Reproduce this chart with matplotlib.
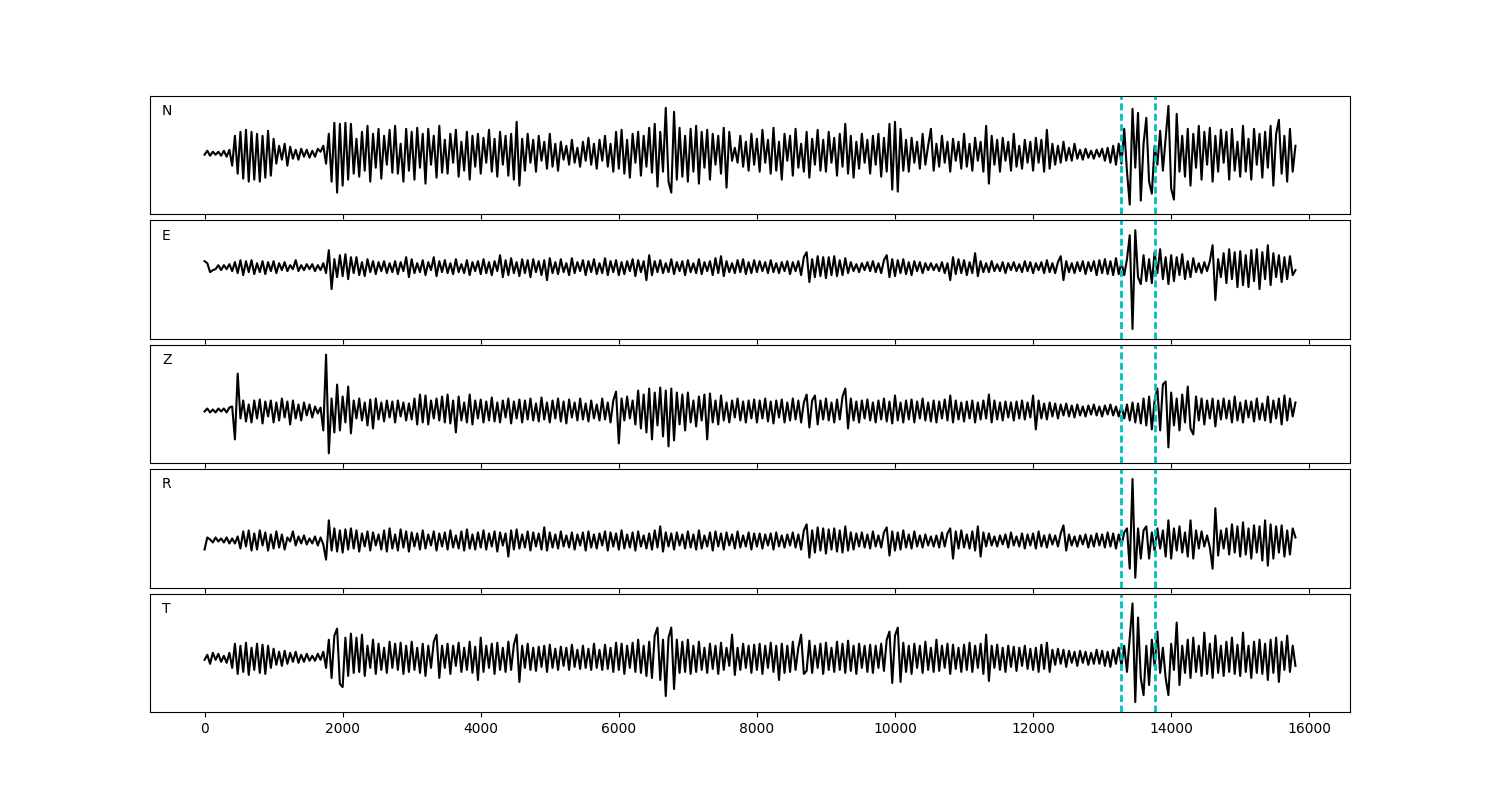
import matplotlib
matplotlib.use("Agg")
import matplotlib.pyplot as plt
import numpy as np

# sample spacing of the stored values (samples)
STEP = 40

# amplitudes (reference-pixel units, positive up), one value every STEP samples
N_TRACE = [
    -1, 3, -2, 2, -1, 2, -2, 3, -3, 4, -12, 18, -20, 22, -25, 24, -28, 22, -26, 20, -28, 18, -24, 23, -22,
    15, -10, 8, -6, 10, -12, 7, -5, 4, -6, 5, -3, 4, -4, 3, -3, 5, 2, 8, -10, 20, -28, 31, -39, 30,
    -32, 31, -26, 30, -20, 15, -23, 22, -17, 28, -28, 20, -14, 25, -25, 18, -11, 24, -19, 28, -20, 10, -28, 25, -17,
    22, -26, 26, -14, 20, -30, 25, -11, 18, -24, 28, -19, 14, -20, 20, -9, 24, -23, 12, -17, 22, -26, 18, -13, 20,
    -20, 16, -9, 24, -18, 15, -23, 22, -11, 18, -22, 20, -26, 32, -32, 15, -17, 20, -9, 14, -18, 18, -7, 12, -15,
    20, -13, 10, -17, 12, -6, 8, -11, 14, -9, 6, -13, 12, -7, 16, -11, 10, -15, 14, -7, 18, -13, 10, -18, 22,
    -15, 24, -20, 14, -24, 20, -9, 22, -22, 18, -13, 26, -19, 30, -33, 22, -18, 46, -28, -39, 42, -26, 26, -23, 18,
    -28, 25, -18, 28, -30, 22, -14, 24, -26, 20, -11, 18, -20, 26, -34, 22, -7, 6, -9, 18, -13, 12, -17, 20, -11,
    15, -18, 24, -9, 14, -20, 26, -17, 12, -26, 20, -7, 18, -22, 25, -14, 10, -18, 22, -24, 15, -11, 24, -17, 14,
    -18, 22, -9, 16, -22, 20, -13, 30, -20, 18, -24, 12, -15, 20, -9, 14, -20, 18, -11, 20, -23, 16, -18, 30, -36,
    32, -38, 25, -17, 14, -18, 16, -9, 12, -15, 20, -11, 8, 25, -17, 10, -13, 18, -9, 12, -18, 15, -7, 12, -15,
    20, -13, 10, -17, 16, -7, 12, -18, 28, -30, 18, -11, 14, -18, 16, -7, 12, -17, 20, -13, 8, -15, 14, -9, 12,
    -17, 16, -9, 14, -18, 24, -15, 10, -11, 8, -9, 12, -7, 6, -7, 10, -5, 4, -6, 5, -4, 3, -5, 4, -3,
    5, -7, 6, -9, 8, -11, 10, -10, 25, -18, -51, 45, -14, 41, -47, 10, 36, -28, -40, 8, -11, 23, -17, 15, 48,
    -35, -46, 40, -18, 18, -23, 25, -32, 20, -14, 28, -26, 22, -11, 26, -28, 18, -18, 24, -9, 22, -26, 25, -17, 12,
    -23, 28, -18, 15, -26, 25, -11, 20, -24, 22, -14, 28, -32, 20, 34, -20, 18, -28, 25, -18, 8,
]

E_TRACE = [
    6, 4, -5, -3, -2, 2, -3, 2, -2, 3, -4, 5, -6, 7, -8, 6, -5, 7, -7, 4, -5, 6, -7, 5, -4,
    6, -6, 4, -3, 5, -4, 2, -2, 7, -4, 2, -3, 3, -2, 3, -4, 2, -3, 4, -6, 17, -22, 8, -10, 12,
    -9, 13, -12, 10, -6, 10, -8, 5, -9, 8, -5, 6, -7, 5, -4, 6, -6, 4, -5, 6, -7, 5, -4, 10, -10,
    8, -6, 4, -5, 7, -8, 5, -3, 10, -9, 6, -5, 7, -6, 4, -7, 8, -5, 3, -6, 7, -8, 5, -4, 6,
    -7, 8, -6, 5, -8, 6, -4, 12, -10, 7, -8, 9, -6, 5, -9, 8, -6, 7, -10, 8, -5, 6, -8, 7, -13,
    9, -6, 5, -7, 8, -5, 4, -8, 9, -6, 5, -4, 7, -8, 6, -5, 8, -7, 4, -6, 9, -8, 6, -5, 7,
    -8, 5, -7, 6, -4, 8, -9, 7, -5, 6, -13, 12, -8, 6, -5, 7, -6, 4, -5, 8, -7, 5, -4, 6, -8,
    7, -5, 4, -6, 8, -7, 5, -4, 6, -8, 9, -6, 11, -9, 6, -5, 4, -6, 7, -5, 8, -7, 5, -6, 7,
    -5, 6, -4, 5, -6, 7, -5, 4, -6, 5, -4, 6, -7, 5, -4, 6, -8, 10, 15, -15, 8, -10, 11, -9, 10,
    -11, 10, -8, 11, -9, 7, -8, 9, -6, 5, -4, 3, -5, 4, -3, 5, -4, 6, -5, 4, -6, 7, 12, -10, 8,
    -9, 7, -6, 8, -7, 5, -8, 6, -4, 5, -6, 4, -3, 4, -3, 3, -4, 5, -6, 4, -13, 10, -7, 8, -6,
    7, -8, 5, -6, 14, -9, 6, -5, 4, -5, 6, -4, 3, -4, 5, -6, 4, -3, 5, -4, 3, -5, 6, -4, 5,
    -6, 4, -3, 5, -6, 7, -5, 4, -6, 5, 11, -13, 6, -5, 4, -6, 5, -4, 6, -7, 5, -4, 6, -8, 7,
    -6, 8, -7, 6, -8, 9, -7, 5, -8, 8, 32, -62, 37, -10, -17, 12, -14, 8, -16, 15, -6, 18, -12, 10, -17,
    12, -14, 10, -8, 13, -12, 6, -10, 9, -5, 4, -6, 5, -4, 6, 22, -33, 8, -10, 14, -16, 18, -12, 15, -20,
    16, -18, 12, -20, 17, -14, 18, -22, 15, -12, 22, -18, 14, -10, 12, -15, 10, -12, 11, -8, -3,
]

Z_TRACE = [
    -1, 2, -2, 1, -2, 2, -1, 2, -2, 3, 4, -29, 37, -8, 10, -11, 6, -12, 10, -8, 11, -13, 9, -6, 10,
    -12, 8, -10, 12, -7, 9, -14, 10, -8, 6, -10, 8, -5, 6, -7, 4, -3, 3, -20, 56, -43, 12, -22, 26, -20,
    14, -12, 24, -23, 10, -8, 12, -10, 8, -15, 11, -18, 12, -9, 8, -11, 10, -7, 9, -12, 10, -6, 8, -10, 7,
    -9, 12, -14, 16, -12, 15, -14, 10, -8, 12, -10, 14, -12, 16, -13, 10, -22, 14, -10, 8, -12, 16, -14, 10, -8,
    11, -12, 9, -10, 13, -11, 8, -12, 10, -7, 12, -13, 9, -8, 11, -12, 10, -9, 12, -10, 7, -11, 13, -9, 8,
    -12, 10, -8, 12, -11, 9, -13, 11, -7, 8, -10, 12, -9, 7, -11, 10, -8, 6, -10, 12, -9, 8, -12, 10, 19,
    -33, 12, -10, 14, -8, 10, -14, 20, -18, 16, -22, 22, -29, 18, -15, 23, -26, 20, -36, 22, -30, 18, -14, 16, -20,
    18, -12, 10, -16, 14, -10, 16, -29, 17, -12, 10, -14, 15, -10, 8, -12, 10, -7, 12, -10, 9, -12, 10, -8, 11,
    -12, 10, -8, 12, -11, 9, -13, 10, -7, 11, -12, 8, -10, 12, -9, 10, -12, 8, 16, -17, 10, 15, -14, 10, -9,
    12, -10, 8, -12, 11, -9, 14, 22, -18, 12, -10, 9, -12, 10, -8, 11, -10, 8, -12, 10, -9, 12, -11, 9, -13,
    15, -10, 8, -12, 10, -9, 11, -12, 9, -8, 12, -10, 8, -11, 10, -12, 9, -8, 11, -10, 15, -12, 10, -9, 8,
    -11, 9, -8, 10, -12, 8, -9, 10, -8, 16, -12, 10, -9, 8, -10, 9, -7, 8, -10, 9, -8, 10, -9, 8, -7,
    15, -19, 10, -8, 7, -9, 8, -6, 7, -8, 6, -5, 7, -6, 5, -7, 6, -5, 4, -6, 5, -4, 6, -5, 4,
    -6, 5, -4, 6, -5, 4, -6, 5, -8, 6, -10, 8, -12, 7, -13, 12, -15, 14, -19, 10, 22, -20, 26, 29, -37,
    18, -15, 12, -20, 16, -12, 24, -18, -24, 14, -10, 12, -14, 10, -8, 12, -16, 10, -9, 12, -8, 10, -12, 14, -10,
    8, -12, 10, -7, 9, -11, 12, -9, 7, -10, 14, -12, 10, -8, 12, -14, 15, -10, 12, -6, 8,
]

R_TRACE = [
    -9, 3, 1, -2, 3, -1, 2, -2, 3, -3, 2, -3, 4, -8, 9, -6, 10, -10, 7, -9, 10, -5, 8, -10, 6,
    -8, 9, -7, 6, -9, 3, -1, 9, -5, 4, -3, 5, -4, 2, -3, 4, -5, 3, -4, -19, 20, -10, 12, -11, 10,
    -12, 11, -9, 12, -8, 10, -11, 7, -6, 9, -10, 8, -5, 6, -9, 10, -11, 12, -8, 6, -10, 11, -7, 9, -11,
    8, -6, 7, -9, 10, -8, 6, -5, 9, -10, 7, -6, 8, -9, 10, -7, 5, -8, 9, -10, 11, -8, 6, -9, 8,
    -7, 10, -9, 7, -6, 9, -11, 8, -5, 7, -16, 10, -9, 11, -8, 6, -7, 9, -10, 8, -6, 7, -9, 13, -10,
    8, -7, 6, -8, 9, -6, 5, -7, 8, -9, 6, -5, 8, -10, 9, -7, 6, -8, 7, -5, 9, -10, 8, -6, 7,
    -9, 10, -8, 6, -7, 8, -10, 9, -6, 5, -8, 7, -9, 10, -7, 14, -11, 8, -6, 7, -9, 8, -5, 6, -8,
    9, -7, 6, -9, 10, -8, 5, -6, 8, -10, 9, -6, 7, -9, 8, -5, 6, -8, 9, -7, 5, -6, 8, -9, 7,
    -6, 7, -8, 6, -5, 7, -9, 8, -6, 5, -7, 6, -5, 8, -7, 6, -9, 10, 16, -17, 10, -12, 13, -10, 12,
    -13, 11, -9, 12, -11, 10, -12, 14, -10, 8, -9, 7, -6, 8, -7, 6, -8, 9, -6, 5, -7, 8, 13, -15, 9,
    -10, 8, -9, 10, -7, 6, -8, 9, -6, 5, -7, 6, -5, 4, -6, 5, -7, 8, -6, 7, 12, -18, 9, -8, 10,
    -7, 6, -8, 9, -10, 14, -16, 8, -6, 7, -5, 4, -6, 5, -4, 6, -7, 8, -5, 4, -6, 7, -8, 6, -5,
    7, -8, 9, -6, 5, -7, 6, -4, 5, -6, 7, 15, -10, 6, -5, 4, -6, 5, -4, 6, -7, 5, -6, 7, -5,
    6, -7, 8, -6, 7, -8, 6, -5, 8, 12, -28, 61, -37, 12, -18, 10, 14, -18, 8, -10, 12, -8, 10, -16, 20,
    -18, 12, -10, 14, -12, 8, -16, 20, -18, 10, -8, 9, -6, 5, -7, -28, 32, -15, 10, -8, 12, -14, 16, -12, 14,
    -16, 18, -14, 12, -18, 15, -12, 14, -20, 20, -25, 16, -18, 14, -12, 15, -16, 10, -14, 12, 3,
]

T_TRACE = [
    -2, 3, -6, 5, -2, 4, -4, 2, -5, 5, -10, 14, -16, 12, -14, 15, -17, 10, -12, 14, -15, 13, -16, 12, -10,
    9, -7, 6, -8, 7, -6, 5, -4, 6, -5, 3, -4, 4, -3, 2, -3, 4, -2, 6, -10, 18, -20, 22, 29, -26,
    -29, 20, -18, 24, -15, 20, -14, 23, -18, 12, -10, 18, -16, 14, -12, 10, -15, 16, -10, 14, -12, 15, -16, 12, -14,
    16, -12, 10, -15, 14, -18, 12, -10, 16, 23, -20, 12, -10, 14, -16, 12, -8, 15, -14, 10, -12, 16, -15, 11, -22,
    20, -14, 12, -10, 14, -16, 15, -12, 10, -14, 16, -12, 13, 23, -24, 12, -10, 14, -12, 10, -13, 11, -9, 12, -14,
    13, -10, 9, -12, 11, -8, 10, -12, 13, -9, 8, -11, 12, -10, 9, -12, 14, -10, 8, -12, 13, -11, 10, -14, 15,
    -12, 14, -16, 12, -10, 15, -14, 18, -15, 12, -18, 16, -20, 22, 30, -22, 18, -38, 20, 30, -31, 18, -15, 16, -14,
    18, -16, 12, -14, 16, -12, 10, -15, 14, -11, 12, -16, 15, -12, 10, -8, 23, -17, 10, -12, 14, -10, 12, -15, 13,
    -12, 14, -16, 12, -10, 15, -14, 12, -22, 14, -15, 12, -14, 16, -12, 10, 23, -16, -13, 17, -15, 12, -10, 14, -16,
    15, -12, 10, -14, 16, -12, 14, -15, 17, -13, 12, -16, 14, -10, 12, -14, 13, -15, 12, -10, 14, -13, 18, 26, -25,
    22, 30, -24, 15, -14, 12, -16, 14, -10, 12, -15, 16, -12, 10, -14, 18, -13, 12, -10, 14, -16, 13, -11, 10, -14,
    13, -12, 15, -14, 12, -10, 14, -16, 23, -23, 12, -10, 13, -12, 10, -14, 12, -9, 11, -13, 10, -8, 12, -11, 9,
    -12, 10, -14, 13, -11, 15, -14, 8, -7, 9, -6, 8, -9, 7, -5, 6, -8, 7, -5, 6, -7, 5, -6, 8, -6,
    7, -8, 6, -9, 8, -6, 10, -8, 12, -14, 20, 54, -44, 40, -20, -37, 12, -27, 18, -8, 26, -15, 10, -20, -37,
    14, -12, 35, -27, 12, -15, 18, -20, 20, -14, 12, -18, 25, -16, 14, -20, 22, -15, 12, -18, 16, -14, 20, -16, 13,
    -18, 25, -14, 12, -20, 16, -15, 18, -16, 14, -22, 18, -15, 20, -24, 16, -12, 22, -14, 12, -8,
]

LABELS = ["N", "E", "Z", "R", "T"]
PICKS = [13270, 13770]
XTICKS = [0, 2000, 4000, 6000, 8000, 10000, 12000, 14000, 16000]

traces = [N_TRACE, E_TRACE, Z_TRACE, R_TRACE, T_TRACE]

fig, axes = plt.subplots(5, 1, sharex=True, figsize=(15, 8), dpi=100)
fig.subplots_adjust(left=0.1, right=0.9, top=0.88, bottom=0.11, hspace=0.05)

for ax, lab, tr in zip(axes, LABELS, traces):
    y = np.asarray(tr, dtype=float)
    x = np.arange(len(y)) * STEP
    ax.plot(x, y, color="black", linewidth=1.5)
    for p in PICKS:
        ax.axvline(p, color="c", linestyle=(0, (2.5, 1.25)), linewidth=2)
    ax.margins(y=0.1)
    ax.set_yticks([])
    ax.text(0.01, 0.93, lab, transform=ax.transAxes, ha="left", va="top", fontsize=10)

axes[-1].set_xticks(XTICKS)
fig.savefig("out.png", dpi=100)
